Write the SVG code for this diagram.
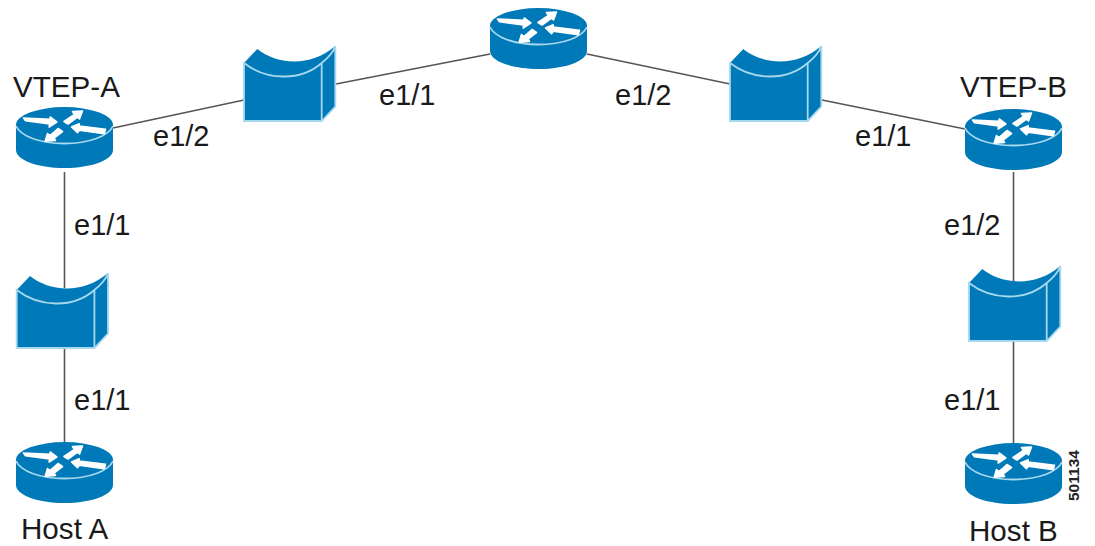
<svg xmlns="http://www.w3.org/2000/svg" width="1095" height="546" viewBox="0 0 1095 546">
<style>
.l{font-family:"Liberation Sans",Arial,sans-serif;font-size:29px;fill:#1a1a1a}
.n{font-size:29.600px}
.c line{stroke:#555;stroke-width:1.6}
.b{fill:#0079b8}
.e{fill:none;stroke:#a6d8ee;stroke-width:1.8}
.a{fill:#fff;stroke:#fff;stroke-width:1.6;stroke-linejoin:round}
</style>
<defs>
<g id="router">
<path class="b" d="M-48.500 0V25C-48.500 35 -27 43 0 43S48.500 35 48.500 25V0A48.500 18 0 0 0 -48.500 0Z"/>
<path class="e" d="M-48.500 1C-44 11 -25 18.500 0 18.500S44 11 48.500 1"/>
<path class="a" d="M-41 -7L-14.600 -5.700L-14.300 -8L-7.700 -3L-15.300 2L-15 -1L-39 -4.300Z"/>
<path class="a" d="M18 -14L8 -13.500L10 -10.500L-0.500 -3.500L3.500 -1L13 -8L15 -6Z"/>
<path class="a" d="M41 4.300L14.700 1L14.700 -1.300L7 2L13 7.700L14.700 5.300L39.700 8.700Z"/>
<path class="a" d="M-19.300 16.300L-17 8.500L-14.500 10.500L-6.500 3.500L-2 6.500L-10.500 13L-9 15.500Z"/>
</g>
<g id="box">
<path class="b" d="M0 0L13.300 -14C30 0 65 6 91.300 -17V43.500L77.700 58H0Z"/>
<path class="e" d="M0 0C22 17 56 19 77.700 0C84 -5 89 -10 91.300 -17V43.500L77.700 58H0ZM77.700 0V58"/>
</g>
</defs>
<g class="c" id="connectors">
<line x1="113" y1="128" x2="244" y2="100"/>
<line x1="336" y1="84" x2="490" y2="54"/>
<line x1="587" y1="54" x2="730" y2="84"/>
<line x1="822" y1="100" x2="965" y2="129"/>
<line x1="64.500" y1="172" x2="64.500" y2="288"/>
<line x1="64.500" y1="348" x2="64.500" y2="442"/>
<line x1="1013.500" y1="172" x2="1013.500" y2="282"/>
<line x1="1013.500" y1="341" x2="1013.500" y2="443"/>
</g>
<g id="vtep-a"><use href="#router" x="64.500" y="125"/><text class="l n" x="13" y="97">VTEP-A</text></g>
<g id="switch-1"><use href="#box" x="244" y="63"/></g>
<g id="router-top"><use href="#router" x="538.500" y="26"/></g>
<g id="switch-2"><use href="#box" x="730" y="63"/></g>
<g id="vtep-b"><use href="#router" x="1013.500" y="127"/><text class="l n" x="960" y="97">VTEP-B</text></g>
<g id="switch-3"><use href="#box" x="16.700" y="290"/></g>
<g id="switch-4"><use href="#box" x="969" y="283"/></g>
<g id="host-a"><use href="#router" x="64.500" y="460"/><text class="l n" x="21" y="539">Host A</text></g>
<g id="host-b"><use href="#router" x="1013.500" y="461"/><text class="l n" x="969" y="541">Host B</text></g>
<g id="labels">
<text class="l" x="153" y="146">e1/2</text>
<text class="l" x="379" y="105">e1/1</text>
<text class="l" x="615" y="105">e1/2</text>
<text class="l" x="855" y="146">e1/1</text>
<text class="l" x="74" y="235">e1/1</text>
<text class="l" x="74" y="410">e1/1</text>
<text class="l" x="944" y="235">e1/2</text>
<text class="l" x="944" y="410">e1/1</text>
<text x="1079" y="501" transform="rotate(-90 1079 501)" style="font-family:'Liberation Sans',Arial,sans-serif;font-size:15.500px;font-weight:bold;fill:#222">501134</text>
</g>
</svg>
